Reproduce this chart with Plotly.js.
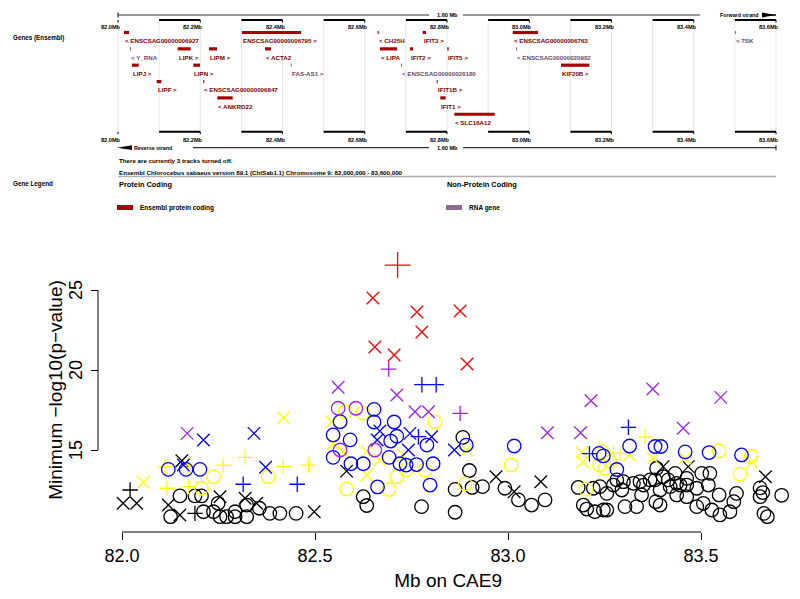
<!DOCTYPE html>
<html><head><meta charset="utf-8">
<script src="https://cdn.plot.ly/plotly-3.0.1.min.js"></script>
<style>html,body{margin:0;padding:0;background:#fff}#chart{width:800px;height:599px}</style>
</head><body><div id="chart"></div>
<script>
// ---------------- Ensembl gene track data (Mb on chromosome 9) ----------------
const geneName = ["ENSCSAG00000006927","ENSCSAG00000006795","CH25H","IFIT3","ENSCSAG00000006763","7SK",
  "Y_RNA","LIPK","LIPM","ACTA2","LIPA","IFIT2","IFIT5","ENSCSAG00000020982",
  "LIPJ","LIPN","FAS-AS1","ENSCSAG00000026180","KIF20B",
  "LIPF","ENSCSAG00000006847","IFIT1B",
  "ANKRD22","IFIT1",
  "SLC16A12"];
const geneStart = [82.0146,82.3015,82.6313,82.7409,82.9598,83.5003,
  82.0292,82.1452,82.2213,82.3574,82.6371,82.7100,82.8007,82.9678,
  82.0340,82.1831,82.4199,82.6881,83.0772,
  82.0941,82.2074,82.7750,
  82.2415,82.7837,
  82.8177];
const geneEnd = [82.0267,82.4450,82.6341,82.7489,83.0213,83.5027,
  82.0316,82.1768,82.2407,82.3720,82.6784,82.7173,82.8041,82.9702,
  82.0503,82.1994,82.4224,82.6906,83.1460,
  82.1053,82.2099,82.7774,
  82.2789,82.7968,
  82.9160];
const geneRow = [1,1,1,1,1,1, 2,2,2,2,2,2,2,2, 3,3,3,3,3, 4,4,4, 5,5, 6];
const geneStrand = ["-","+","-","+","-","-", "-","+","+","-","-","+","+","-", "+","+","+","-","+", "+","-","+", "-","+", "-"];
const geneBiotype = ["pc","pc","pc","pc","pc","rna", "rna","pc","pc","pc","pc","pc","pc","rna", "pc","pc","rna","rna","pc", "pc","pc","pc", "pc","pc", "pc"];
const rulerTicksMb = [82.0,82.2,82.4,82.6,82.8,83.0,83.2,83.4,83.6];
const rulerLabels = ["82.0Mb","82.2Mb","82.4Mb","82.6Mb","82.8Mb","83.0Mb","83.2Mb","83.4Mb","83.6Mb"];

// ---------------- Association scatter data ----------------
const blackCircX = [82.150,82.189,82.206,82.126,82.211,82.249,82.237,82.254,82.271,82.293,82.293,82.323,82.323,82.356,82.383,82.409,82.451,
  82.883,82.900,82.863,82.907,82.934,82.625,82.634,82.776,82.863,82.992,83.027,83.061,83.096,
  83.182,83.195,83.204,83.221,83.225,83.247,83.256,83.238,83.256,83.273,83.282,83.299,83.295,83.303,83.333,83.325,83.342,83.351,83.346,
  83.368,83.381,83.385,83.394,83.383,83.394,83.402,83.415,83.433,83.420,83.437,83.446,83.437,83.463,83.463,83.463,83.489,83.489,83.506,
  83.502,83.523,83.519,83.528,83.547,83.549,83.575,83.585,83.592,83.653,83.660,83.653,83.709,83.663,83.672];
const blackCircY = [12.13,12.13,12.13,10.83,11.14,11.67,11.14,10.83,10.83,10.83,11.14,10.83,11.56,11.36,11.04,11.04,11.04,
  15.79,13.72,12.54,12.66,12.71,12.08,11.53,11.46,11.11,12.61,11.88,11.56,11.88,
  12.66,11.56,11.31,12.61,11.14,11.25,11.25,12.71,12.29,12.81,13.13,13.02,12.50,11.46,11.46,12.92,13.02,12.81,12.19,
  13.13,13.13,13.86,12.50,11.77,11.56,13.33,13.13,13.54,12.71,12.92,12.81,12.19,12.08,13.23,12.81,12.61,11.46,11.67,
  13.54,13.54,12.81,11.25,12.19,10.94,11.14,11.77,12.29,12.63,12.34,12.08,12.17,11.04,10.83];
const blackXX = [82.003,82.038,82.155,82.254,82.319,82.120,82.150,82.349,82.498,82.582,82.969,83.016,83.085,83.402,83.467,83.667];
const blackXY = [11.67,11.67,14.33,12.08,11.98,11.56,10.94,11.67,11.14,13.68,13.33,12.39,13.02,13.96,13.96,13.33];
const blackPlusX = [82.021,82.189];
const blackPlusY = [12.50,11.04];

const yellowCircX = [82.578,82.624,82.811,82.785,82.736,82.712,82.582,82.692,82.889,82.237,82.379,82.206,83.008,83.547,83.630,83.601,83.243,83.237,83.251,83.264,83.202];
const yellowCircY = [17.39,17.31,16.77,13.75,13.75,13.33,12.56,12.53,12.88,13.33,13.33,12.61,14.06,14.94,14.61,13.49,14.89,14.06,13.86,14.27,12.54];
const yellowXX = [82.055,82.418,82.543,82.547,82.573,82.634,82.729,82.668,82.634,82.893,83.191,83.194,83.315,83.376,83.459,83.631];
const yellowXY = [12.98,17.02,16.77,15.42,14.89,14.89,14.69,14.38,13.44,15.00,14.84,14.25,14.69,14.48,14.48,14.22];
const yellowPlusX = [82.483,82.319,82.262,82.418,82.111,82.172,82.116,82.172,83.355,83.273,83.290];
const yellowPlusY = [14.06,14.54,14.06,13.96,13.96,14.06,12.61,12.71,15.81,14.79,14.79];

const blueCircX = [82.653,82.565,82.653,82.705,82.547,82.591,82.712,82.696,82.790,82.892,82.692,82.547,82.593,82.625,82.720,82.736,82.763,82.806,82.662,82.798,82.120,82.166,82.202,83.016,83.315,83.381,83.396,83.459,83.521,83.605,83.236,83.247,83.282];
const blueCircY = [17.54,16.77,16.75,16.75,15.94,15.63,15.86,15.56,15.31,15.31,14.54,14.54,14.14,14.14,14.14,14.06,14.09,14.14,12.69,12.81,13.79,13.79,13.79,15.25,15.25,15.22,15.22,14.88,14.84,14.69,14.79,14.63,13.78];
const blueXX = [82.211,82.342,82.159,82.372,82.668,82.661,82.746,82.802,82.742,82.861];
const blueXY = [15.63,16.04,14.06,13.92,16.19,15.63,16.04,15.83,15.00,15.00];
const bluePlusX = [82.777,82.814,82.768,82.314,82.454,83.312,83.211];
const bluePlusY = [19.08,19.08,15.83,12.86,12.86,16.42,14.77];

const purpleCircX = [82.560,82.606,82.565,82.655];
const purpleCircY = [17.61,17.61,15.00,15.00];
const purpleXX = [82.169,82.560,82.712,82.759,82.794,83.102,83.188,83.215,83.375,83.454,83.551];
const purpleXY = [16.04,18.92,18.44,17.39,17.39,16.08,16.08,18.08,18.81,16.36,18.29];
const purplePlusX = [82.691,82.876];
const purplePlusY = [20.06,17.29];

const redXX = [82.650,82.764,82.876,82.777,82.655,82.705,82.894];
const redXY = [24.50,23.63,23.69,22.38,21.44,20.94,20.38];
const redPlusX = [82.714];
const redPlusY = [26.56];

const xTickVals = [82.0,82.5,83.0,83.5];
const xTickText = ["82.0","82.5","83.0","83.5"];
const yTickVals = [15,20,25];
const yTickText = ["15","20","25"];

// ---------------- build ----------------
const W = 800, H = 599;
const FONT = "Liberation Sans, Arial, sans-serif";
const PC_BAR = "#a80000", PC_TXT = "#7a0000", RNA_BAR = "#8e6a92", RNA_TXT = "#6a4a6e";
const ROW0 = 32.5, ROWSTEP = 16.35;
const rowY = r => ROW0 + (r - 1) * ROWSTEP;
const px = x => x / W;

const shapes = [], ann = [], traces = [];

// light vertical grid every 0.1 Mb across gene track
for (let i = 0; i < rulerTicksMb.length - 1; i++) {
  [rulerTicksMb[i], (rulerTicksMb[i] + rulerTicksMb[i+1]) / 2].forEach(m => {
    shapes.push({type:'line', xref:'x2', yref:'y2', x0:m, x1:m, y0:21, y1:131, line:{color:'#e6e6e6', width:1}, layer:'below'});
  });
}
shapes.push({type:'line', xref:'x2', yref:'y2', x0:rulerTicksMb[rulerTicksMb.length-1], x1:rulerTicksMb[rulerTicksMb.length-1], y0:21, y1:131, line:{color:'#e6e6e6', width:1}, layer:'below'});

// rulers (top at y=20, bottom at y=131.7)
[[20, 27], [131.7, 140]].forEach(([yy, ly]) => {
  rulerTicksMb.forEach((t, i) => {
    if (i > 0) shapes.push({type:'line', xref:'x2', yref:'y2', x0:rulerTicksMb[i-1] + 0.1, x1:t, y0:yy, y1:yy, line:{color:'#000', width:2}});
    shapes.push({type:'line', xref:'x2', yref:'y2', x0:t, x1:t, y0:yy, y1:yy + 2.5, line:{color:'#000', width:1}});
    ann.push({x:t, xref:'x2', y:ly, yref:'y2', text:'<b>' + rulerLabels[i] + '</b>', showarrow:false, xanchor:'right', xshift:4, yanchor:'middle', borderpad:0, font:{family:FONT, size:5.6, color:'#000'}});
  });
});

// 1.60 Mb scale lines
const L = {color:'#333', width:1.2};
shapes.push({type:'line', xref:'paper', yref:'y2', x0:px(118), x1:px(429), y0:15, y1:15, line:L});
shapes.push({type:'line', xref:'paper', yref:'y2', x0:px(463), x1:px(700), y0:15, y1:15, line:L});
shapes.push({type:'line', xref:'paper', yref:'y2', x0:px(118), x1:px(118), y0:12.5, y1:17.5, line:L});
shapes.push({type:'path', xref:'paper', yref:'y2', path:`M ${px(762)} 12.6 L ${px(775)} 15 L ${px(762)} 17.4 Z`, fillcolor:'#000', line:{width:0}});
shapes.push({type:'line', xref:'paper', yref:'y2', x0:px(762), x1:px(776), y0:15, y1:15, line:{color:'#000', width:1.5}});
ann.push({x:px(447), xref:'paper', y:15, yref:'y2', text:'<b>1.60 Mb</b>', showarrow:false, xanchor:'center', yanchor:'middle', borderpad:0, font:{family:FONT, size:5.6, color:'#000'}});
ann.push({x:px(719), xref:'paper', y:15, yref:'y2', text:'<b>Forward strand</b>', showarrow:false, xanchor:'left', yanchor:'middle', borderpad:0, font:{family:FONT, size:5.3, color:'#000'}});

shapes.push({type:'line', xref:'paper', yref:'y2', x0:px(193), x1:px(429), y0:147.7, y1:147.7, line:L});
shapes.push({type:'line', xref:'paper', yref:'y2', x0:px(463), x1:px(776), y0:147.7, y1:147.7, line:L});
shapes.push({type:'line', xref:'paper', yref:'y2', x0:px(776), x1:px(776), y0:145.2, y1:150.2, line:L});
shapes.push({type:'path', xref:'paper', yref:'y2', path:`M ${px(117)} 147.7 L ${px(132)} 145.3 L ${px(132)} 150.1 Z`, fillcolor:'#000', line:{width:0}});
ann.push({x:px(447), xref:'paper', y:147.7, yref:'y2', text:'<b>1.60 Mb</b>', showarrow:false, xanchor:'center', yanchor:'middle', borderpad:0, font:{family:FONT, size:5.6, color:'#000'}});
ann.push({x:px(133), xref:'paper', y:147.7, yref:'y2', text:'<b>Reverse strand</b>', showarrow:false, xanchor:'left', yanchor:'middle', borderpad:0, font:{family:FONT, size:5.3, color:'#000'}});

// texts of Ensembl panel
const T = (x, y, text, size, bold, color) => ann.push({x:px(x), xref:'paper', y:y, yref:'y2', text: bold ? '<b>' + text + '</b>' : text, showarrow:false, xanchor:'left', yanchor:'middle', borderpad:0, font:{family:FONT, size:size, color:color || '#000'}});
T(12, 37.5, 'Genes (Ensembl)', 6.3, true);
T(118, 160.5, 'There are currently 3 tracks turned off.', 6.2, true);
T(118, 172.3, 'Ensembl Chlorocebus sabaeus version 89.1 (ChlSab1.1) Chromosome 9: 82,000,000 - 83,600,000', 6.2, true);
shapes.push({type:'line', xref:'paper', yref:'y2', x0:px(118), x1:px(776), y0:176.5, y1:176.5, line:{color:'#b0b0b0', width:1.5}});
T(12, 183.5, 'Gene Legend', 6.3, true);
T(118, 184, 'Protein Coding', 7.4, true);
T(446, 184, 'Non-Protein Coding', 7.4, true);
shapes.push({type:'rect', xref:'paper', yref:'y2', x0:px(117), x1:px(133), y0:205, y1:210, fillcolor:PC_BAR, line:{width:0}});
shapes.push({type:'rect', xref:'paper', yref:'y2', x0:px(446), x1:px(462), y0:205, y1:210, fillcolor:RNA_BAR, line:{width:0}});
T(139, 207.5, 'Ensembl protein coding', 6.5, true);
T(468, 207.5, 'RNA gene', 6.5, true);

// genes: bars as line traces on x2/y2, labels as annotations
['pc', 'rna'].forEach(bt => {
  const xs = [], ys = [];
  geneName.forEach((g, i) => {
    if (geneBiotype[i] !== bt) return;
    xs.push(geneStart[i], geneEnd[i], null);
    ys.push(rowY(geneRow[i]), rowY(geneRow[i]), null);
  });
  traces.push({x:xs, y:ys, xaxis:'x2', yaxis:'y2', mode:'lines', line:{color: bt === 'pc' ? PC_BAR : RNA_BAR, width:3.2}, hoverinfo:'skip', showlegend:false});
});
geneName.forEach((g, i) => {
  const lab = geneStrand[i] === '-' ? '&lt; ' + g : g + ' &gt;';
  ann.push({x:geneStart[i], xref:'x2', y:rowY(geneRow[i]) + 8.2, yref:'y2', text:'<b>' + lab + '</b>', showarrow:false, xanchor:'left', yanchor:'middle', borderpad:0,
    font:{family:FONT, size:6.2, color: geneBiotype[i] === 'pc' ? PC_TXT : RNA_TXT}});
});

// scatter series
const S = (x, y, color, sym, size) => traces.push({x:x, y:y, xaxis:'x', yaxis:'y', type:'scatter', mode:'markers', cliponaxis:false, hoverinfo:'skip', showlegend:false,
  marker:{symbol:sym, size:size, color:color, line:{color:color, width:1.3}}});
const CIRC = 'circle-open', XS = 'x-thin-open', PL = 'cross-thin-open';
S(blackCircX, blackCircY, '#000000', CIRC, 13.5);
S(blackXX, blackXY, '#000000', XS, 12.5);
S(blackPlusX, blackPlusY, '#000000', PL, 11);
S(yellowCircX, yellowCircY, '#ffff00', CIRC, 13.5);
S(yellowXX, yellowXY, '#ffff00', XS, 12.5);
S(yellowPlusX, yellowPlusY, '#ffff00', PL, 11);
S(blueCircX, blueCircY, '#0000ff', CIRC, 13.5);
S(blueXX, blueXY, '#0000ff', XS, 12.5);
S(bluePlusX, bluePlusY, '#0000ff', PL, 11);
S(purpleCircX, purpleCircY, '#a020f0', CIRC, 13.5);
S(purpleXX, purpleXY, '#a020f0', XS, 12.5);
S(purplePlusX, purplePlusY, '#a020f0', PL, 11);
S(redXX, redXY, '#ff0000', XS, 12.5);
S(redPlusX, redPlusY, '#ff0000', PL, 18.5);

// R-style axis lines spanning only the tick range
const xAxisPos = 1 - 532 / H, yAxisPos = 98 / W;
shapes.push({type:'line', xref:'x', yref:'paper', x0:Math.min(...xTickVals), x1:Math.max(...xTickVals), y0:xAxisPos, y1:xAxisPos, line:{color:'#000', width:1}});
shapes.push({type:'line', xref:'paper', yref:'y', x0:yAxisPos, x1:yAxisPos, y0:Math.min(...yTickVals), y1:Math.max(...yTickVals), line:{color:'#000', width:1}});
// rotated y tick labels (R las=0 style, parallel to the axis)
yTickVals.forEach((v, i) => ann.push({x:px(76), xref:'paper', y:v, yref:'y', text:yTickText[i], textangle:-90, showarrow:false,
  xanchor:'center', yanchor:'middle', borderpad:0, font:{family:FONT, size:18, color:'#000'}}));

const layout = {
  width: W, height: H, margin:{l:0, r:0, t:0, b:0}, paper_bgcolor:'#fff', plot_bgcolor:'rgba(0,0,0,0)',
  showlegend:false, hovermode:false,
  xaxis: {domain:[98.84/W, 797.5/W], range:[81.94, 83.75], anchor:'free', position:xAxisPos,
    tickvals:xTickVals, ticktext:xTickText, ticks:'outside', ticklen:7, tickwidth:1, tickcolor:'#000',
    showline:false, showgrid:false, zeroline:false, tickfont:{family:FONT, size:18, color:'#000'},
    title:{text:'Mb on CAE9', font:{family:FONT, size:19, color:'#000'}, standoff:9}},
  yaxis: {domain:[1 - 525.2/H, 1 - 254.8/H], range:[10.3, 27.2], anchor:'free', position:yAxisPos,
    tickvals:yTickVals, showticklabels:false, ticks:'outside', ticklen:7, tickwidth:1, tickcolor:'#000',
    showline:false, showgrid:false, zeroline:false,
    title:{text:'Minimum \u2212log10(p\u2212value)', font:{family:FONT, size:19, color:'#000'}, standoff:21.5}},
  xaxis2: {domain:[0, 1], range:[82 - 118/411.25, 82 + 682/411.25], anchor:'y2', visible:false, fixedrange:true},
  yaxis2: {domain:[0, 1], range:[H, 0], anchor:'x2', visible:false, fixedrange:true},
  shapes: shapes, annotations: ann
};
Plotly.newPlot('chart', traces, layout, {staticPlot:true, displayModeBar:false});
</script></body></html>
